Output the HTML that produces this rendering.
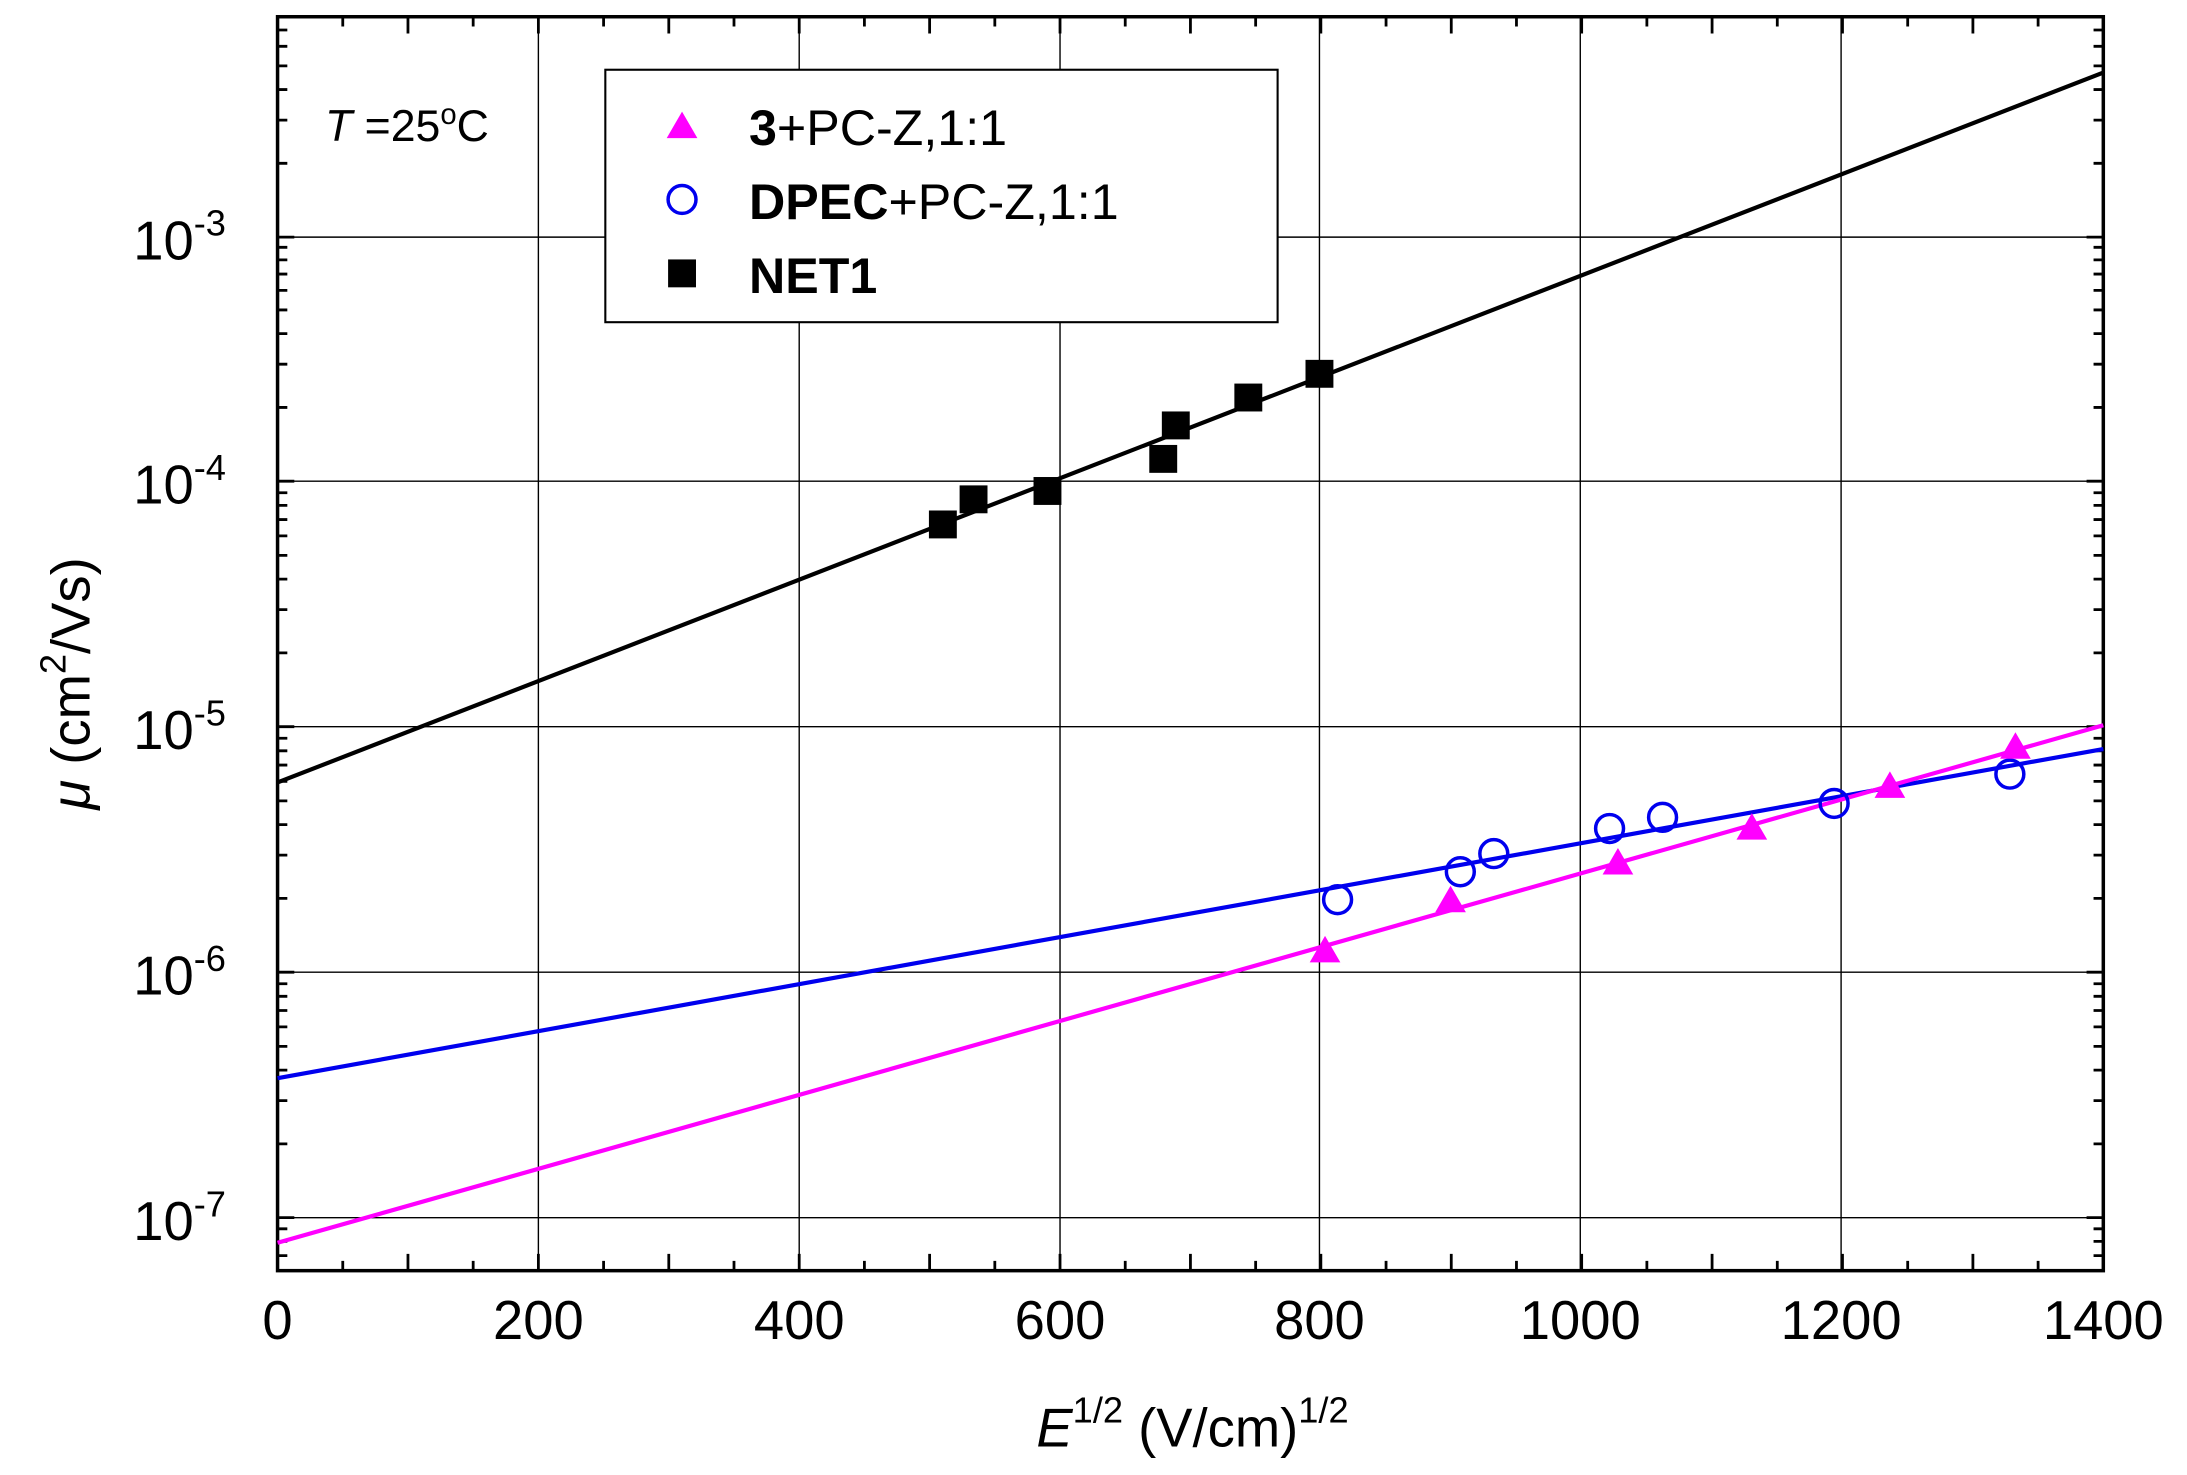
<!DOCTYPE html>
<html><head><meta charset="utf-8"><style>html,body{margin:0;padding:0;background:#fff}svg{display:block}</style></head><body>
<svg width="2187" height="1475" viewBox="0 0 1568 1057.5" preserveAspectRatio="none" xmlns="http://www.w3.org/2000/svg" font-family="Liberation Sans, Arial, sans-serif">
<rect width="1568" height="1057.5" fill="#fff"/>
<g stroke="#000" stroke-width="1">
<line x1="386" y1="12" x2="386" y2="911"/><line x1="573" y1="12" x2="573" y2="911"/><line x1="760" y1="12" x2="760" y2="911"/><line x1="946" y1="12" x2="946" y2="911"/><line x1="1133" y1="12" x2="1133" y2="911"/><line x1="1320" y1="12" x2="1320" y2="911"/>
<line x1="199" y1="170" x2="1508" y2="170"/><line x1="199" y1="345" x2="1508" y2="345"/><line x1="199" y1="521" x2="1508" y2="521"/><line x1="199" y1="697" x2="1508" y2="697"/><line x1="199" y1="873" x2="1508" y2="873"/>
</g>
<path stroke="#000" stroke-width="2" fill="none" d="
M292.5 911v-12M386 911v-12M479.5 911v-12M573 911v-12M666.5 911v-12M760 911v-12M853.5 911v-12M947 911v-12M1040.5 911v-12M1134 911v-12M1227.5 911v-12M1321 911v-12M1414.5 911v-12
M245.75 911v-7M339.25 911v-7M432.75 911v-7M526.25 911v-7M619.75 911v-7M713.25 911v-7M806.75 911v-7M900.25 911v-7M993.75 911v-7M1087.25 911v-7M1180.75 911v-7M1274.25 911v-7M1367.75 911v-7M1461.25 911v-7
M292.5 12v12M386 12v12M479.5 12v12M573 12v12M666.5 12v12M760 12v12M853.5 12v12M947 12v12M1040.5 12v12M1134 12v12M1227.5 12v12M1321 12v12M1414.5 12v12
M245.75 12v7M339.25 12v7M432.75 12v7M526.25 12v7M619.75 12v7M713.25 12v7M806.75 12v7M900.25 12v7M993.75 12v7M1087.25 12v7M1180.75 12v7M1274.25 12v7M1367.75 12v7M1461.25 12v7
M199 170h12M199 345h12M199 521h12M199 697h12M199 873h12
M1508 170h-12M1508 345h-12M1508 521h-12M1508 697h-12M1508 873h-12
M199 117.1h7M199 86.1h7M199 64.2h7M199 47.2h7M199 33.2h7M199 21.5h7
M199 292.1h7M199 261.1h7M199 239.2h7M199 222.2h7M199 208.2h7M199 196.5h7M199 186.3h7M199 177.3h7
M199 468.1h7M199 437.1h7M199 415.2h7M199 398.2h7M199 384.2h7M199 372.5h7M199 362.3h7M199 353.3h7
M199 644.1h7M199 613.1h7M199 591.2h7M199 574.2h7M199 560.2h7M199 548.5h7M199 538.3h7M199 529.3h7
M199 820.1h7M199 789.1h7M199 767.2h7M199 750.2h7M199 736.2h7M199 724.5h7M199 714.3h7M199 705.3h7
M199 900.2h7M199 890h7M199 881h7
M1508 117.1h-7M1508 86.1h-7M1508 64.2h-7M1508 47.2h-7M1508 33.2h-7M1508 21.5h-7
M1508 292.1h-7M1508 261.1h-7M1508 239.2h-7M1508 222.2h-7M1508 208.2h-7M1508 196.5h-7M1508 186.3h-7M1508 177.3h-7
M1508 468.1h-7M1508 437.1h-7M1508 415.2h-7M1508 398.2h-7M1508 384.2h-7M1508 372.5h-7M1508 362.3h-7M1508 353.3h-7
M1508 644.1h-7M1508 613.1h-7M1508 591.2h-7M1508 574.2h-7M1508 560.2h-7M1508 548.5h-7M1508 538.3h-7M1508 529.3h-7
M1508 820.1h-7M1508 789.1h-7M1508 767.2h-7M1508 750.2h-7M1508 736.2h-7M1508 724.5h-7M1508 714.3h-7M1508 705.3h-7
M1508 900.2h-7M1508 890h-7M1508 881h-7"/>
<rect x="199" y="12" width="1309" height="899" fill="none" stroke="#000" stroke-width="2.5"/>
<line x1="199" y1="561" x2="1508" y2="52" stroke="#000" stroke-width="3"/>
<line x1="199" y1="773" x2="1508" y2="537" stroke="#0000ee" stroke-width="3"/>
<line x1="199" y1="891" x2="1508" y2="520" stroke="#ff00ff" stroke-width="3"/>
<g fill="#000">
<rect x="666" y="366" width="20" height="20"/><rect x="688" y="348" width="20" height="20"/><rect x="741" y="342" width="20" height="20"/><rect x="824" y="319" width="20" height="20"/><rect x="833" y="295" width="20" height="20"/><rect x="885" y="275" width="20" height="20"/><rect x="936" y="258" width="20" height="20"/>
</g>
<g fill="none" stroke="#0000ee" stroke-width="2.5">
<circle cx="959" cy="645" r="10"/><circle cx="1047" cy="625" r="10"/><circle cx="1071" cy="612" r="10"/><circle cx="1154" cy="594" r="10"/><circle cx="1192" cy="586" r="10"/><circle cx="1315" cy="576" r="10"/><circle cx="1441" cy="555" r="10"/>
</g>
<g fill="#ff00ff">
<polygon points="950,671 961,690 939,690"/><polygon points="1040,635 1051,654 1029,654"/><polygon points="1160,608 1171,627 1149,627"/><polygon points="1256,583 1267,602 1245,602"/><polygon points="1355,553 1366,572 1344,572"/><polygon points="1445,525 1456,544 1434,544"/>
</g>
<rect x="434" y="50" width="482" height="181" fill="#fff" stroke="#000" stroke-width="1.5"/>
<polygon points="489,80 500,99 478,99" fill="#ff00ff"/>
<circle cx="489" cy="143" r="10" fill="none" stroke="#0000ee" stroke-width="2.5"/>
<rect x="479" y="186" width="20" height="20" fill="#000"/>
<g font-size="36">
<text x="537" y="104"><tspan font-weight="bold">3</tspan>+PC-Z,1:1</text>
<text x="537" y="157"><tspan font-weight="bold">DPEC</tspan>+PC-Z,1:1</text>
<text x="537" y="210" font-weight="bold">NET1</text>
</g>
<text x="233" y="101" font-size="32"><tspan font-style="italic">T</tspan> =25<tspan dy="-12" font-size="21">o</tspan><tspan dy="12">C</tspan></text>
<g font-size="39" text-anchor="middle">
<text x="199" y="960">0</text><text x="386" y="960">200</text><text x="573" y="960">400</text><text x="760" y="960">600</text><text x="946" y="960">800</text><text x="1133" y="960">1000</text><text x="1320" y="960">1200</text><text x="1508" y="960">1400</text>
</g>
<g font-size="39" text-anchor="end">
<text x="162" y="186">10<tspan dy="-17" font-size="26">-3</tspan></text>
<text x="162" y="361">10<tspan dy="-17" font-size="26">-4</tspan></text>
<text x="162" y="537">10<tspan dy="-17" font-size="26">-5</tspan></text>
<text x="162" y="713">10<tspan dy="-17" font-size="26">-6</tspan></text>
<text x="162" y="889">10<tspan dy="-17" font-size="26">-7</tspan></text>
</g>
<text x="855" y="1037" font-size="39" text-anchor="middle"><tspan font-style="italic">E</tspan><tspan dy="-17" font-size="26">1/2</tspan><tspan dy="17"> (V/cm)</tspan><tspan dy="-17" font-size="26">1/2</tspan></text>
<text transform="translate(64,490) rotate(-90)" font-size="39" text-anchor="middle"><tspan font-style="italic">μ</tspan>  (cm<tspan dy="-17" font-size="26">2</tspan><tspan dy="17">/Vs)</tspan></text>
</svg>
</body></html>
